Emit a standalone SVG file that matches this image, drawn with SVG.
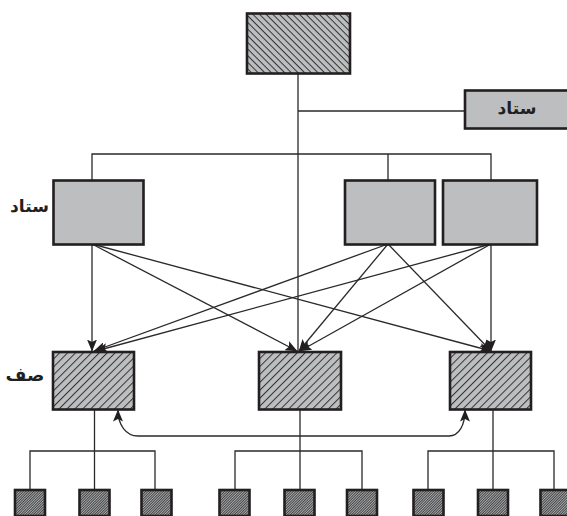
<svg xmlns="http://www.w3.org/2000/svg" width="567" height="516" viewBox="0 0 567 516">
<style>
.c{fill:none;stroke:#2b2a2b;stroke-width:1.3}
.box{stroke:#231f20;stroke-width:2.6}
.g{fill:#bcbec0}
.bk{fill:url(#back)}
.fw{fill:url(#fwd)}
.sm{fill:url(#fine)}
text{font-family:"DejaVu Sans",sans-serif;font-weight:700;font-size:17px;fill:#231f20;text-anchor:middle}
</style>
<defs>
<pattern id="back" width="4.7" height="4.7" patternUnits="userSpaceOnUse" patternTransform="rotate(45)"><rect width="4.7" height="4.7" fill="#bcbec0"/><rect width="4.7" height="1" fill="#333"/></pattern>
<pattern id="fwd" width="5.6" height="5.6" patternUnits="userSpaceOnUse" patternTransform="rotate(-45)"><rect width="5.6" height="5.6" fill="#bcbec0"/><rect width="5.6" height="1" fill="#333"/></pattern>
<pattern id="fine" width="1.8" height="1.8" patternUnits="userSpaceOnUse" patternTransform="rotate(-45)"><rect width="1.8" height="1.8" fill="#a7a9ac"/><rect width="1.8" height="0.9" fill="#444"/></pattern>
<marker id="a" viewBox="0 0 12 10" refX="11.5" refY="5" markerWidth="12" markerHeight="10" markerUnits="userSpaceOnUse" orient="auto"><path d="M0 0L12 5L0 10L2.500 5Z" fill="#231f20"/></marker>
<marker id="b" viewBox="0 0 12 10" refX="0.5" refY="5" markerWidth="12" markerHeight="10" markerUnits="userSpaceOnUse" orient="auto"><path d="M12 0L0 5L12 10L9.500 5Z" fill="#231f20"/></marker>
</defs>
<g id="connectors" class="c">
<path d="M298 73V352M298 111H465M92 180V154H491V180M388 154V180"/>
<path d="M92 244V351" marker-end="url(#a)"/>
<path d="M92 244L297 351" marker-end="url(#a)"/>
<path d="M92 244L491 351" marker-end="url(#a)"/>
<path d="M388 244L94 351" marker-end="url(#a)"/>
<path d="M388 244L299 351" marker-end="url(#a)"/>
<path d="M388 244L491 351" marker-end="url(#a)"/>
<path d="M491 244L96 351" marker-end="url(#a)"/>
<path d="M491 244L300 351" marker-end="url(#a)"/>
<path d="M491 244V351" marker-end="url(#a)"/>
<path d="M118 410C118 425 126 436 138 436H449C459 436 465 425 465 410" marker-start="url(#b)" marker-end="url(#a)"/>
<path d="M94.500 409V490M30 490V451H155V490"/>
<path d="M300 409V490M235 490V451H362V490"/>
<path d="M493 409V490M428 490V451H554V490"/>
</g>
<g id="top"><rect class="box bk" x="247" y="13.500" width="103" height="60"/></g>
<g id="staff-right"><rect class="box g" x="465" y="90.500" width="104" height="38"/><text x="517" y="114">ستاد</text></g>
<g id="staff-1"><rect class="box g" x="53.500" y="180.500" width="90" height="64"/></g>
<g id="staff-label"><text x="29.500" y="212">ستاد</text></g>
<g id="staff-2"><rect class="box g" x="345" y="180.500" width="90" height="64"/></g>
<g id="staff-3"><rect class="box g" x="443" y="180.500" width="94" height="64"/></g>
<g id="line-label"><text x="25" y="381" style="font-size:18px">صف</text></g>
<g id="line-1"><rect class="box fw" x="53" y="352" width="81" height="57.500"/></g>
<g id="line-2"><rect class="box fw" x="259" y="352" width="82" height="57.500"/></g>
<g id="line-3"><rect class="box fw" x="450" y="352" width="81" height="57.500"/></g>
<g id="unit-1"><rect class="box sm" x="15" y="490" width="30" height="26"/></g>
<g id="unit-2"><rect class="box sm" x="79.500" y="490" width="30" height="26"/></g>
<g id="unit-3"><rect class="box sm" x="141.500" y="490" width="30" height="26"/></g>
<g id="unit-4"><rect class="box sm" x="219.500" y="490" width="30" height="26"/></g>
<g id="unit-5"><rect class="box sm" x="284.500" y="490" width="30" height="26"/></g>
<g id="unit-6"><rect class="box sm" x="347" y="490" width="30" height="26"/></g>
<g id="unit-7"><rect class="box sm" x="413.500" y="490" width="30" height="26"/></g>
<g id="unit-8"><rect class="box sm" x="478" y="490" width="30" height="26"/></g>
<g id="unit-9"><rect class="box sm" x="540.500" y="490" width="30" height="26"/></g>
</svg>
